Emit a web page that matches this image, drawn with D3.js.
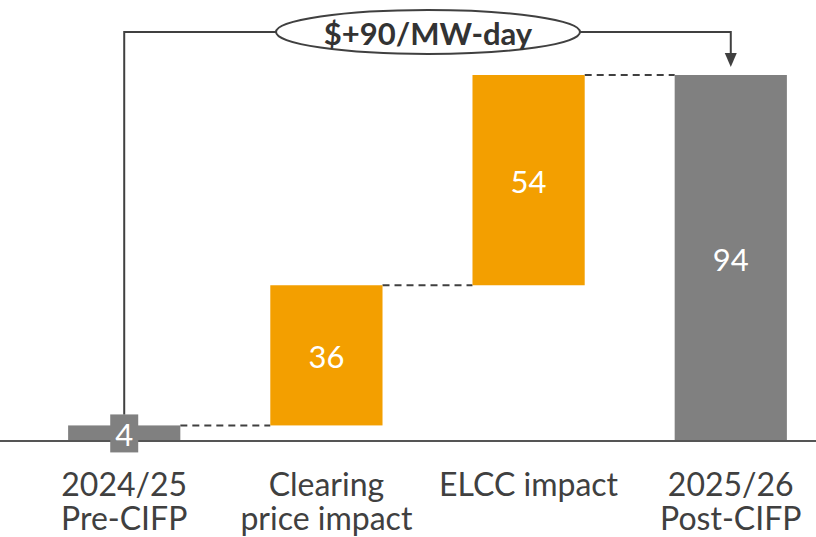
<!DOCTYPE html>
<html>
<head>
<meta charset="utf-8">
<script src="https://cdn.jsdelivr.net/npm/d3@7"></script>
<style>
  html, body { margin: 0; padding: 0; background: #fff; }
  svg { display: block; font-family: Lato, "Open Sans", sans-serif; }
</style>
</head>
<body>
<svg id="chart" width="816" height="537"></svg>
<script>
// Capacity price waterfall, $/MW-day
const categories = ["2024/25\nPre-CIFP", "Clearing\nprice impact", "ELCC impact", "2025/26\nPost-CIFP"];
const values = [4, 36, 54, 94];
const kinds = ["total", "delta", "delta", "total"];
const changeLabel = "$+90/MW-day";

const colors = { total: "#808080", delta: "#F39F00" };

const svg = d3.select("#chart");
const W = 816, H = 537;
const baseY = 441;

const x = d3.scaleBand().domain(categories).range([-35, 890]).paddingInner(0.445).paddingOuter(0.51);
const y = d3.scaleLinear().domain([0, 94]).range([baseY, 75]);

// running start/end for each step
let run = 0;
const steps = categories.map((c, i) => {
  let s, e;
  if (kinds[i] === "total") { s = 0; e = values[i]; run = values[i]; }
  else { s = run; e = run + values[i]; run = e; }
  return { cat: c, v: values[i], kind: kinds[i], s, e };
});

// dashed connectors between consecutive bars
for (let i = 0; i < steps.length - 1; i++) {
  const a = steps[i], b = steps[i + 1];
  const lvl = a.e;
  svg.append("line")
    .attr("x1", x(a.cat) + x.bandwidth()).attr("x2", x(b.cat))
    .attr("y1", y(lvl)).attr("y2", y(lvl))
    .attr("stroke", "#404040").attr("stroke-width", 2)
    .attr("stroke-dasharray", "7,5");
}

// bars
svg.selectAll("rect.bar").data(steps).join("rect")
  .attr("class", "bar")
  .attr("x", d => x(d.cat))
  .attr("width", x.bandwidth())
  .attr("y", d => y(d.e))
  .attr("height", d => y(d.s) - y(d.e))
  .attr("fill", d => colors[d.kind]);

// baseline
svg.append("line")
  .attr("x1", 0).attr("x2", W).attr("y1", baseY).attr("y2", baseY)
  .attr("stroke", "#555").attr("stroke-width", 2);

// value labels
steps.forEach(d => {
  const cx = x(d.cat) + x.bandwidth() / 2;
  const cy = (y(d.s) + y(d.e)) / 2;
  const small = y(d.s) - y(d.e) < 35;
  const ty = small ? y(d.e) + 8 : cy;
  if (small) {
    svg.append("rect")
      .attr("x", cx - 14).attr("y", ty - 19).attr("width", 28).attr("height", 38)
      .attr("fill", colors[d.kind]);
  }
  svg.append("text")
    .attr("x", cx).attr("y", ty + 1)
    .attr("text-anchor", "middle").attr("dominant-baseline", "central")
    .attr("fill", "#fff").attr("font-size", 31)
    .text(d.v);
});

// category labels
steps.forEach(d => {
  const cx = x(d.cat) + x.bandwidth() / 2;
  const t = svg.append("text")
    .attr("text-anchor", "middle").attr("fill", "#404040").attr("font-size", 32);
  d.cat.split("\n").forEach((line, k) => {
    t.append("tspan").attr("x", cx).attr("y", 496 + k * 34).text(line);
  });
});

// overall change bracket
const first = steps[0], last = steps[steps.length - 1];
const x0 = x(first.cat) + x.bandwidth() / 2;
const x1 = x(last.cat) + x.bandwidth() / 2;
const topY = 32;
const ex = 428, erx = 152, ery = 22;

svg.append("path")
  .attr("d", `M${x0},${y(first.e) - 11} V${topY} H${ex - erx}`)
  .attr("fill", "none").attr("stroke", "#404040").attr("stroke-width", 2);
svg.append("path")
  .attr("d", `M${ex + erx},${topY} H${x1} V${y(last.e) - 20}`)
  .attr("fill", "none").attr("stroke", "#404040").attr("stroke-width", 2);
svg.append("path")
  .attr("d", `M${x1 - 6},${y(last.e) - 22} L${x1 + 6},${y(last.e) - 22} L${x1},${y(last.e) - 8} Z`)
  .attr("fill", "#404040");

svg.append("ellipse")
  .attr("cx", ex).attr("cy", topY).attr("rx", erx).attr("ry", ery)
  .attr("fill", "#fff").attr("stroke", "#404040").attr("stroke-width", 2);
svg.append("text")
  .attr("x", ex).attr("y", topY + 1)
  .attr("text-anchor", "middle").attr("dominant-baseline", "central")
  .attr("fill", "#333").attr("font-size", 31).attr("font-weight", "bold")
  .text(changeLabel);
</script>
</body>
</html>
